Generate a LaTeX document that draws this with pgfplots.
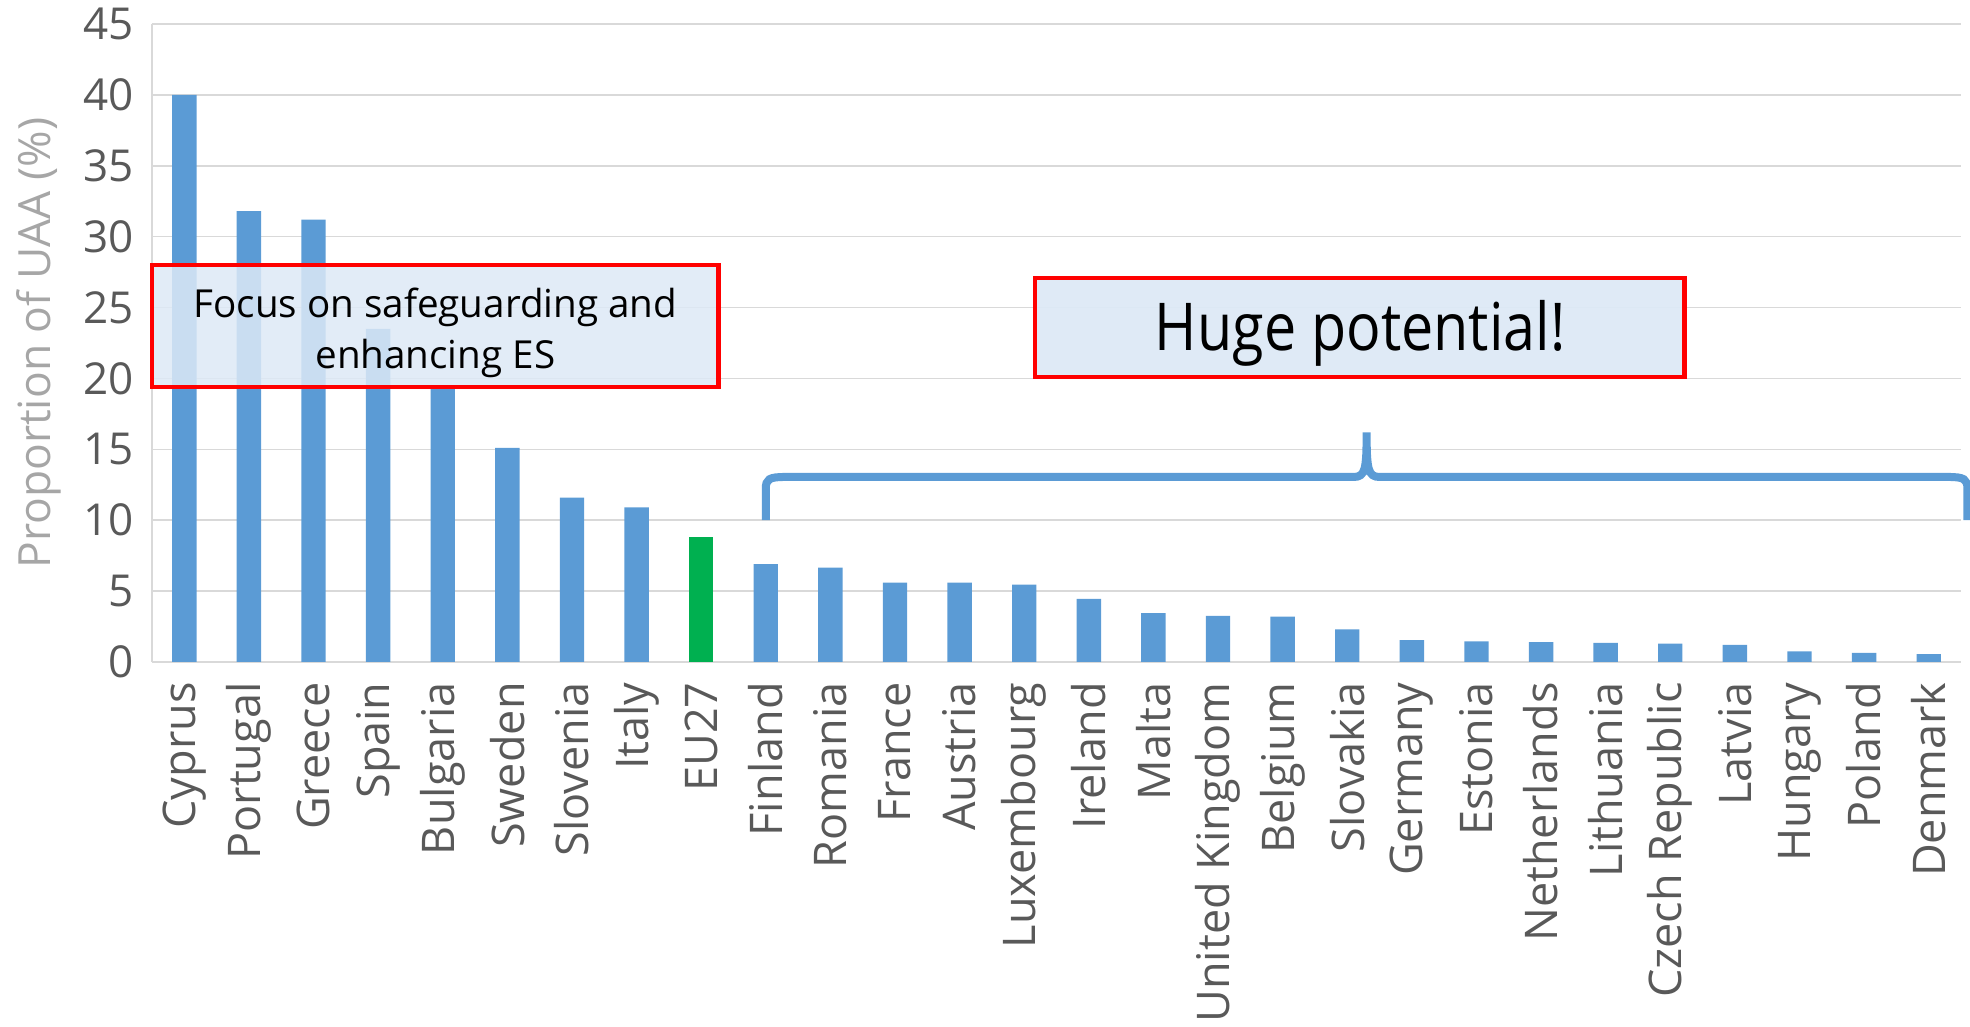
\documentclass[border=0pt]{standalone}
\usepackage{fontspec}
\setmainfont{Open Sans}
\usepackage{pgfplots}
\usepackage{pgfplotstable}
\pgfplotsset{compat=1.18}

\definecolor{barblue}{HTML}{5B9BD5}
\definecolor{eugreen}{HTML}{00B050}
\definecolor{gridgray}{HTML}{D9D9D9}
\definecolor{ticktext}{HTML}{595959}
\definecolor{labeltext}{HTML}{A6A6A6}
\definecolor{boxfill}{HTML}{DDE9F6}

% share of UAA (%), countries sorted; EU27 kept apart (green)
\pgfplotstableread{
idx value
0 40.0
1 31.8
2 31.2
3 23.5
4 19.3
5 15.1
6 11.6
7 10.9
9 6.9
10 6.65
11 5.6
12 5.6
13 5.45
14 4.45
15 3.45
16 3.25
17 3.2
18 2.3
19 1.55
20 1.45
21 1.4
22 1.35
23 1.3
24 1.2
25 0.75
26 0.65
27 0.55
}\countries

\begin{document}
\begin{tikzpicture}
\path[use as bounding box] (0,0) rectangle (985pt,513.5pt);
\begin{axis}[
    at={(76pt,182.5pt)}, anchor=south west,
    scale only axis,
    width=904.5pt, height=319pt,
    xmin=-0.5, xmax=27.5,
    ymin=0, ymax=45,
    ytick={0,5,...,45},
    xtick={0,...,27},
    xticklabels={Cyprus,Portugal,Greece,Spain,Bulgaria,Sweden,Slovenia,Italy,EU27,Finland,Romania,France,Austria,Luxembourg,Ireland,Malta,United Kingdom,Belgium,Slovakia,Germany,Estonia,Netherlands,Lithuania,Czech Republic,Latvia,Hungary,Poland,Denmark},
    ymajorgrids,
    grid style={gridgray, line width=0.75pt},
    axis x line*=bottom, axis y line*=left,
    axis line style={gridgray, line width=0.75pt},
    major tick length=0pt,
    tick style={draw=none},
    xticklabel style={rotate=90, anchor=east, inner sep=0pt,
        font=\fontsize{22.5}{27}\selectfont, text=ticktext},
    xticklabel shift=10pt,
    yticklabel style={anchor=east, inner sep=0pt,
        font=\fontsize{22}{26}\selectfont, text=ticktext},
    yticklabel shift=9pt,
    /pgf/number format/assume math mode=true,
    ylabel={Proportion of UAA (\%)},
    ylabel style={at={(axis description cs:-0.0624,0.5)}, anchor=center,
        font=\fontsize{22.2}{26}\selectfont, text=labeltext},
    clip=false,
    ybar, bar width=12.2pt, bar shift=0pt,
]
\addplot[fill=barblue, draw=none] table[x=idx, y=value] {\countries};
\addplot[fill=eugreen, draw=none] coordinates {(8,8.8)};

% left annotation box
\fill[boxfill, fill opacity=0.85] (axis cs:-0.5,19.4) rectangle (axis cs:8.27,28.0);
\draw[red, line width=2.2pt] (axis cs:-0.5,19.4) rectangle (axis cs:8.27,28.0);
\node[align=center, font=\fontsize{19.3}{25.7}\selectfont] at (axis cs:3.885,23.2)
    {Focus on safeguarding and\\enhancing ES};

% right annotation box
\fill[boxfill, fill opacity=0.95] (axis cs:13.17,20.1) rectangle (axis cs:23.22,27.1);
\draw[red, line width=2.2pt] (axis cs:13.17,20.1) rectangle (axis cs:23.22,27.1);
\node[font=\fontsize{33}{38}\selectfont] at (axis cs:18.2,23.2)
    {\scalebox{0.87}[1]{Huge potential!}};

% brace over the low-share countries
\draw[barblue, line width=4pt]
    (axis cs:9.0,10.0) -- (axis cs:9.0,12.2)
    .. controls (axis cs:9.0,12.9) and (axis cs:9.05,13.05) .. (axis cs:9.3,13.05)
    -- (axis cs:18.1,13.05)
    .. controls (axis cs:18.28,13.05) and (axis cs:18.3,13.6) .. (axis cs:18.3,16.2)
    .. controls (axis cs:18.3,13.6) and (axis cs:18.32,13.05) .. (axis cs:18.5,13.05)
    -- (axis cs:27.3,13.05)
    .. controls (axis cs:27.55,13.05) and (axis cs:27.6,12.9) .. (axis cs:27.6,12.2)
    -- (axis cs:27.6,10.0);
\end{axis}
\end{tikzpicture}
\end{document}
